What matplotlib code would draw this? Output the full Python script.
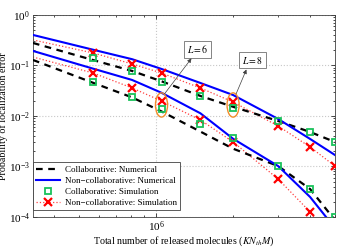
import numpy as np
import matplotlib
matplotlib.use("Agg")
import matplotlib.pyplot as plt
from matplotlib.patches import Ellipse
from matplotlib.lines import Line2D

plt.rcParams['font.family'] = ['Liberation Serif', 'DejaVu Serif']
plt.rcParams['mathtext.fontset'] = 'stix'

# x positions (total released molecules)
x_line = [3.3e5, 5.67e5, 8.06e5, 1.05e6, 1.49e6, 2.0e6, 3.0e6, 4.0e6, 5.0e6]
x_sim = [5.67e5, 8.06e5, 1.05e6, 1.49e6, 2.0e6, 3.0e6, 4.0e6, 5.0e6]

# L = 8 (upper group)
collab_num_8 = [0.279, 0.128, 0.0778, 0.0486, 0.0249, 0.0152, 0.00796, 0.00482, 0.00306]
noncollab_num_8 = [0.402, 0.205, 0.133, 0.0853, 0.045, 0.026, 0.00873, 0.00351, 0.00169]
collab_sim_8 = [0.141, 0.0778, 0.0472, 0.0249, 0.0144, 0.00796, 0.00482, 0.00306]
noncollab_sim_8 = [0.32, 0.177, 0.107, 0.071, 0.0358, 0.0189, 0.00634, 0.00243, 0.00102]

# L = 6 (lower group)
collab_num_6 = [0.1285, 0.0454, 0.0233, 0.0123, 0.00491, 0.00225, 0.00102, 3.58e-4, 8.7e-5]
noncollab_num_6 = [0.194, 0.0865, 0.0516, 0.0288, 0.0113, 0.00354, 0.00102, 2.49e-4, 6.05e-5]
collab_sim_6 = [0.0472, 0.0238, 0.0138, 0.00695, 0.00367, 0.00102, 3.58e-4, 1.0e-4]
noncollab_sim_6 = [0.147, 0.071, 0.0358, 0.0198, 0.00834, 0.00306, 5.65e-4, 1.26e-4, 3e-5]

green = '#19c25a'
fig = plt.figure(figsize=(3.54, 2.49), dpi=100)
ax = fig.add_axes([0.093, 0.1285, 0.853, 0.8115])

for cn, nn, cs, ns in [(collab_num_8, noncollab_num_8, collab_sim_8, noncollab_sim_8),
                       (collab_num_6, noncollab_num_6, collab_sim_6, noncollab_sim_6)]:
    ax.plot(x_line, ns, ':', color='#ff4040', lw=0.9, zorder=2)
    ax.plot(x_sim, ns[1:], 'x', color='red', ms=5.5, mew=1.6, zorder=4)
    ax.plot(x_line, cn, '--', color='black', lw=1.6, dashes=(3, 2.5), zorder=3)
    ax.plot(x_line, nn, '-', color='blue', lw=1.5, zorder=3)
    ax.plot(x_sim, cs, 's', mfc='none', mec=green, ms=4.8, mew=1.3, zorder=4)

ax.set_xscale('log')
ax.set_yscale('log')
ax.set_xlim(3.3e5, 5.0e6)
ax.set_ylim(1e-4, 1)
ax.set_xticks([1e6])
ax.set_yticks([1e-4, 1e-3, 1e-2, 1e-1, 1])
ax.grid(True, which='major', ls=':', color='#c8c8c8', lw=0.8)
ax.tick_params(which='both', direction='in', top=True, right=True, labelsize=8, pad=2)
ax.tick_params(which='major', length=3, width=0.5)
ax.tick_params(which='minor', length=1.6, width=0.5)
for s in ax.spines.values():
    s.set_linewidth(0.6)
    s.set_color('#404040')

ax.set_xlabel('Total number of released molecules ($KN_{th}M$)', fontsize=7.2, labelpad=0)
ax.set_ylabel('Probability of localization error', fontsize=7.2)
ax.yaxis.set_label_coords(-0.082, 0.5)

# ellipses and labels
to_axes = ax.transData + ax.transAxes.inverted()
for xi, yi, yj, lab, box in [(x_sim[2], noncollab_sim_6[3], collab_sim_6[2], '$L = 6$', (0.545, 0.83)),
                             (x_sim[4], noncollab_sim_8[5], collab_sim_8[4], '$L = 8$', (0.727, 0.775))]:
    cx, cy = to_axes.transform((xi, np.sqrt(yi * yj)))
    ax.add_patch(Ellipse((cx, cy), 0.04, 0.12, transform=ax.transAxes, fill=False,
                         ec='#f28c28', lw=1.0, zorder=5))
    ax.text(box[0], box[1], lab, transform=ax.transAxes, fontsize=7, ha='center', va='center',
            bbox=dict(boxstyle='square,pad=0.25', fc='white', ec='#707070', lw=0.6), zorder=6)
    ax.annotate('', xy=(box[0] - 0.02, box[1] - 0.045), xytext=(cx + 0.01, cy + 0.055),
                xycoords='axes fraction', textcoords='axes fraction',
                arrowprops=dict(arrowstyle='-|>', color='#404040', lw=0.5,
                                mutation_scale=6, shrinkA=0, shrinkB=0), zorder=6)

handles = [Line2D([], [], ls='--', color='black', lw=1.6, dashes=(3, 2.5)),
           Line2D([], [], ls='-', color='blue', lw=1.5),
           Line2D([], [], ls='none', marker='s', mfc='none', mec=green, ms=4.8, mew=1.3),
           Line2D([], [], ls=':', color='#ff4040', lw=0.9, marker='x', mec='red', ms=5.5, mew=1.6)]
labels = ['Collaborative: Numerical', 'Non\u2212collaborative: Numerical',
          'Collaborative: Simulation', 'Non\u2212collaborative: Simulation']
leg = ax.legend(handles, labels, loc='lower left', bbox_to_anchor=(0, 0.035), fontsize=6.5,
                fancybox=False, edgecolor='#404040', framealpha=1, borderaxespad=0.0,
                handlelength=2.6, labelspacing=0.3, borderpad=0.35, handletextpad=0.6)
leg.get_frame().set_linewidth(0.6)

fig.savefig('out.png', dpi=100)
